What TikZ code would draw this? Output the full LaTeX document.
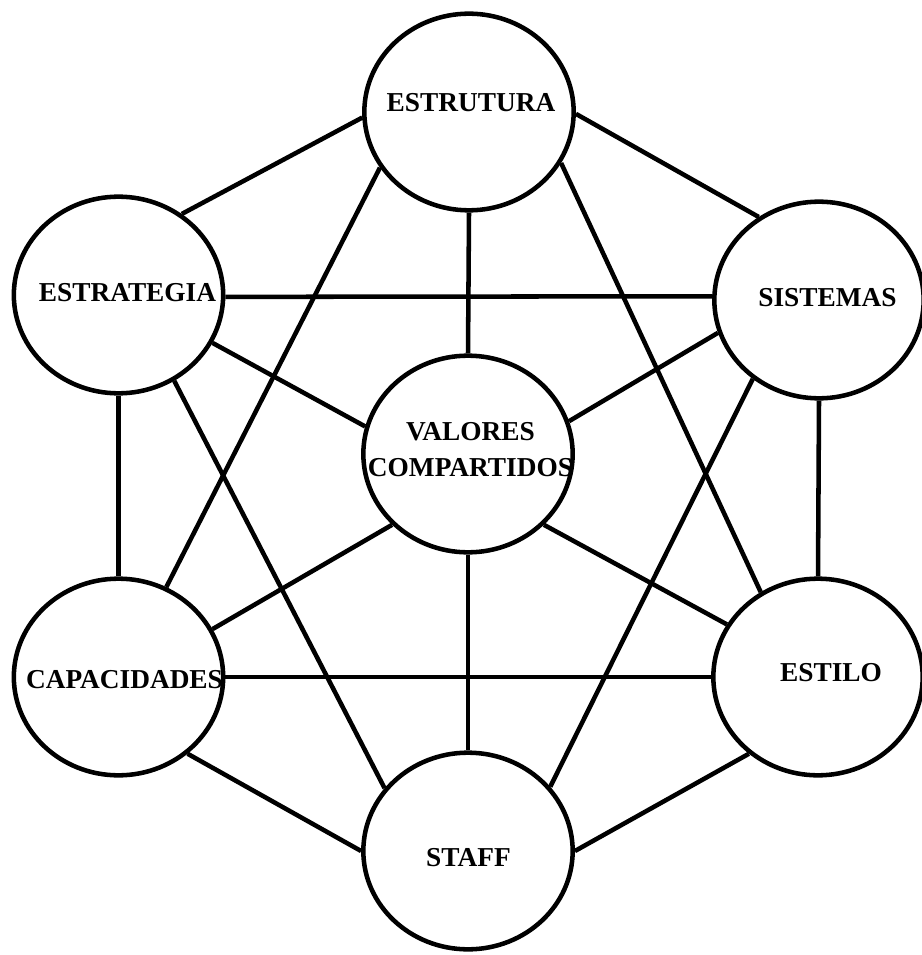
\documentclass[tikz,border=0pt]{standalone}
\usepackage{fontspec}
\setmainfont{Liberation Serif}
\usetikzlibrary{shapes.geometric}
\begin{document}
\begin{tikzpicture}[x=0.75pt,y=-0.75pt,
  element/.style={ellipse, draw=black, line width=3.4pt,
    minimum width=157pt, minimum height=147.5pt, inner sep=0pt},
  caption/.style={font=\fontsize{20.5}{27}\selectfont\bfseries,
    align=center, inner sep=0pt, text=black},
  link/.style={line width=3.4pt, draw=black}]
\fill[white] (0,0) rectangle (921,955);
\useasboundingbox (0,0) rectangle (921,955);

% the seven elements
\node[element] (estrutura)   at (469,112)   {};
\node[element] (estrategia)  at (118.5,295) {};
\node[element] (sistemas)    at (819,300)   {};
\node[element] (valores)     at (468,454)   {};
\node[element] (capacidades) at (118.5,677) {};
\node[element] (estilo)      at (818,677)   {};
\node[element] (staff)       at (468,851)   {};

% their names
\node[caption] (t-estrutura)   at (471,103)   {ESTRUTURA};
\node[caption] (t-estrategia)  at (127.5,293) {ESTRATEGIA};
\node[caption] (t-sistemas)    at (827.5,298) {SISTEMAS};
\node[caption] (t-valores)     at (470.5,450) {VALORES\\COMPARTIDOS};
\node[caption] (t-capacidades) at (124.5,680) {CAPACIDADES};
\node[caption] (t-estilo)      at (831,673)   {ESTILO};
\node[caption] (t-staff)       at (468.5,858) {STAFF};

% links between the elements
\draw[link] (estrutura.183)   -- (estrategia.52);
\draw[link] (estrutura.-1)    -- (sistemas.126.5);
\draw[link] (estrutura.-90)   -- (valores.90);
\draw[link] (estrutura.212.3) -- (capacidades.62.4);
\draw[link] (estrutura.-29.7) -- (estilo.124.2);

\draw[link] (estrategia.-1)     -- (sistemas.178.5);
\draw[link] (estrategia.-27.8)  -- (valores.165.2);
\draw[link] (estrategia.-90)    -- (capacidades.90);
\draw[link] (estrategia.-57.9)  -- (staff.143.2);

\draw[link] (sistemas.198)    -- (valores.18.2);
\draw[link] (sistemas.-90)    -- (estilo.90);
\draw[link] (sistemas.230.6)  -- (staff.38);

\draw[link] (valores.223.4) -- (capacidades.27.7);
\draw[link] (valores.-43)   -- (estilo.150.5);
\draw[link] (valores.-90)   -- (staff.90);

\draw[link] (capacidades.-0.5) -- (estilo.180.5);
\draw[link] (capacidades.-48.5) -- (staff.180.3);

\draw[link] (estilo.228.3) -- (staff.0);
\end{tikzpicture}
\end{document}
